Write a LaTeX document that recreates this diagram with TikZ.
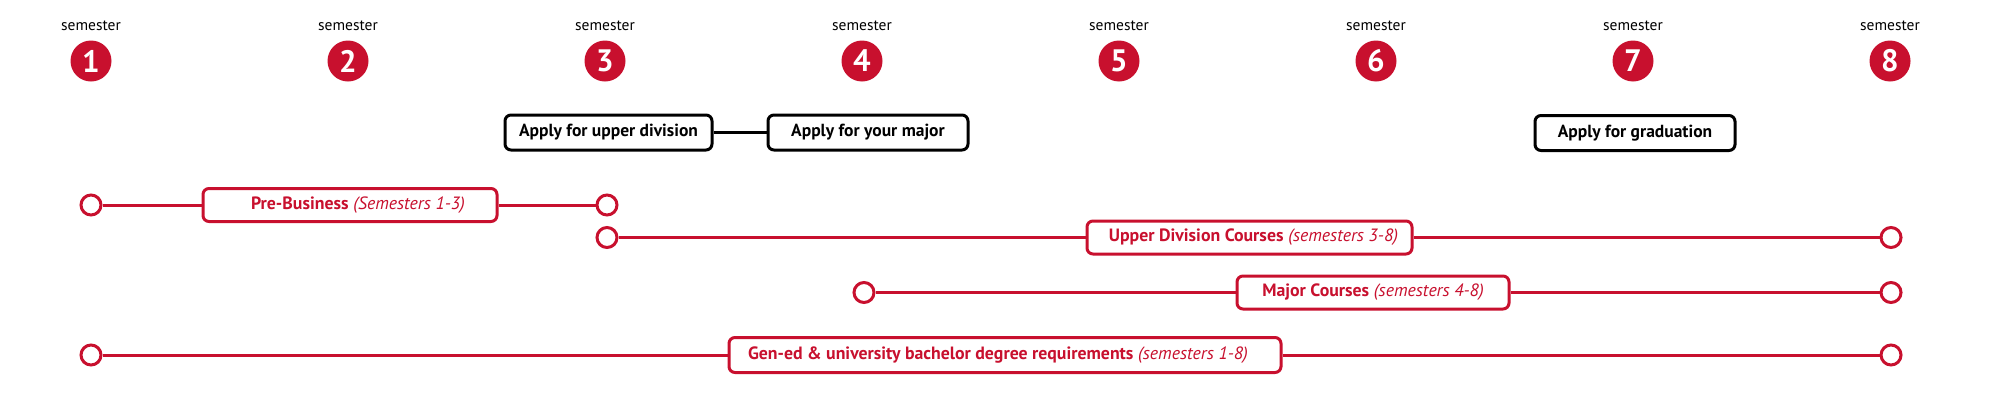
\documentclass[tikz,border=0pt]{standalone}
\usepackage{fontspec}
\setmainfont{PT Sans}
\definecolor{crim}{RGB}{200,16,46}
\begin{document}
\begin{tikzpicture}[x=1pt,y=-1pt,
  semlab/.style={inner sep=0pt, text=black, font=\fontsize{15.5}{15.5}\selectfont},
  semnum/.style={circle, fill=crim, minimum size=41pt, inner sep=0pt, text=white, font=\bfseries\fontsize{31}{31}\selectfont},
  applybox/.style={draw=black, line width=3pt, rounded corners=6pt, minimum height=35pt, inner sep=0pt, fill=white, font=\bfseries\fontsize{17.5}{18}\selectfont},
  redbox/.style={draw=crim, line width=3pt, rounded corners=6pt, minimum height=33pt, inner sep=0pt, fill=white, text=crim, font=\fontsize{17.8}{18}\selectfont},
  dotnode/.style={circle, draw=crim, line width=3pt, fill=white, minimum size=20pt, inner sep=0pt},
  redline/.style={draw=crim, line width=3pt},
  blackline/.style={draw=black, line width=3pt}]
\useasboundingbox (0,0) rectangle (2001,410);
% semesters
\foreach \i in {1,...,8}{
  \node[semlab] (t\i) at ({91+(\i-1)*257},26) {semester};
  \node[semnum] (s\i) at ({91+(\i-1)*257},61) {\i};
}
% apply boxes
\node[applybox, minimum width=207pt] (ap1) at (608.5,132.5) {Apply for upper division};
\node[applybox, minimum width=200pt] (ap2) at (868,132.5) {Apply for your major};
\node[applybox, minimum width=200pt] (ap3) at (1635,133) {Apply for graduation};
\draw[blackline] (ap1.east) -- (ap2.west);
% row A
\node[dotnode] (a1) at (91,205) {};
\node[dotnode] (a2) at (607,205) {};
\node[redbox, minimum width=294pt] (pb) at (350,205) {\hspace*{16pt}{\bfseries Pre-Business} {\itshape (Semesters 1-3)}};
\draw[redline] (a1.east) -- (pb.west);
\draw[redline] (pb.east) -- (a2.west);
% row B
\node[dotnode] (b1) at (607,237.5) {};
\node[dotnode] (b2) at (1891,237.5) {};
\node[redbox, minimum width=325pt] (ud) at (1249.5,237.5) {\hspace*{8pt}{\bfseries Upper Division Courses} {\itshape (semesters 3-8)}};
\draw[redline] (b1.east) -- (ud.west);
\draw[redline] (ud.east) -- (b2.west);
% row C
\node[dotnode] (c1) at (864,292.5) {};
\node[dotnode] (c2) at (1891,292.5) {};
\node[redbox, minimum width=272pt] (mc) at (1373,292.5) {{\bfseries Major Courses} {\itshape (semesters 4-8)}};
\draw[redline] (c1.east) -- (mc.west);
\draw[redline] (mc.east) -- (c2.west);
% row D
\node[dotnode] (d1) at (91,355) {};
\node[dotnode] (d2) at (1891,355) {};
\node[redbox, minimum width=552pt, minimum height=35pt] (ge) at (1005,355) {{\bfseries Gen-ed \& university bachelor degree requirements} {\itshape (semesters 1-8)}\hspace*{14pt}};
\draw[redline] (d1.east) -- (ge.west);
\draw[redline] (ge.east) -- (d2.west);
\end{tikzpicture}
\end{document}
